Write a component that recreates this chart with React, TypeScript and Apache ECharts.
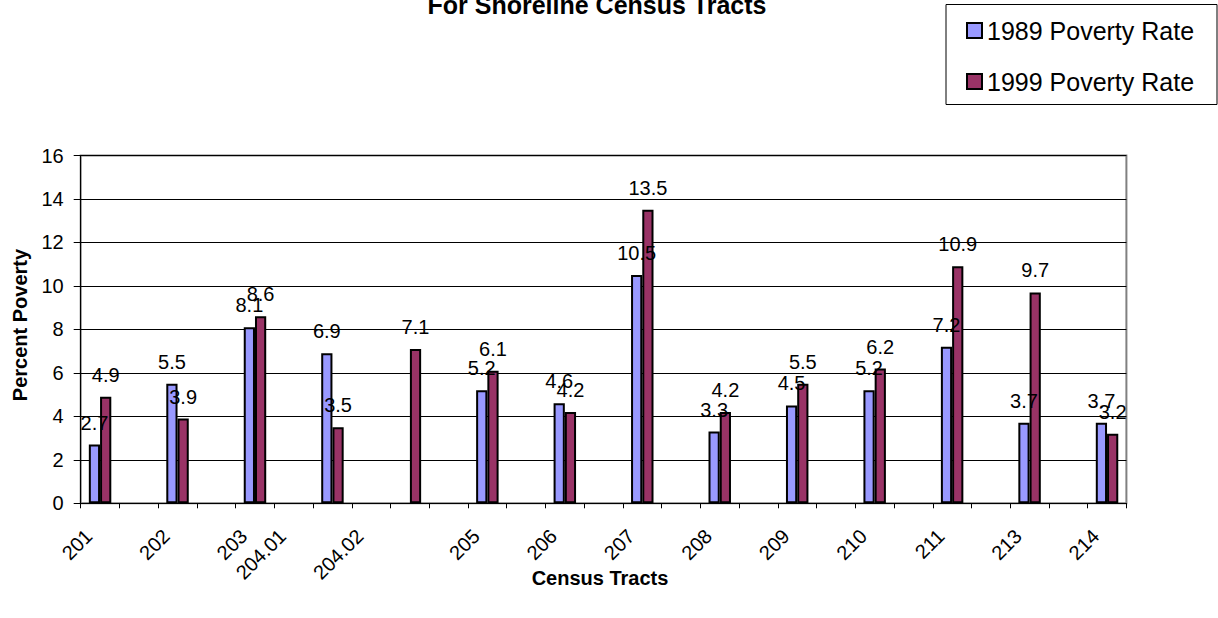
import React, { useEffect, useRef } from "react";
import * as echarts from "echarts";

const tracts = ["201", "202", "203", "204.01", "204.02", "205", "206", "207", "208", "209", "210", "211", "213", "214"];
const rate1989: (number | null)[] = [2.7, 5.5, 8.1, 6.9, null, 5.2, 4.6, 10.5, 3.3, 4.5, 5.2, 7.2, 3.7, 3.7];
const rate1999: (number | null)[] = [4.9, 3.9, 8.6, 3.5, 7.1, 6.1, 4.2, 13.5, 4.2, 5.5, 6.2, 10.9, 9.7, 3.2];
// tick labels as they sit under the axis slots in the original (the two long labels sit one slot to the left)
const xTickLabels = [
  "201", "", "202", "", "203", "204.01", "", "204.02", "", "", "205", "", "206", "", "207", "",
  "208", "", "209", "", "210", "", "211", "", "213", "", "214",
];
const yTicks = { min: 0, max: 16, interval: 2 };

const FONT = "'Liberation Sans', Arial, sans-serif";

function interleave<T>(arr: T[], gap: (i: number) => T): T[] {
  const out: T[] = [];
  arr.forEach((v, i) => {
    if (i > 0) out.push(gap(i));
    out.push(v);
  });
  return out;
}

export default function App() {
  const ref = useRef<HTMLDivElement>(null);
  useEffect(() => {
    if (!ref.current) return;
    const chart = echarts.init(ref.current, undefined, { renderer: "svg" });
    const cats = interleave(tracts, (i) => "_gap" + i);
    const d89 = interleave(rate1989.map((v) => (v == null ? "-" : v)), () => "-");
    const d99 = interleave(rate1999.map((v) => (v == null ? "-" : v)), () => "-");
    const labelCfg = {
      show: true,
      position: "top",
      distance: 12,
      color: "#000",
      fontSize: 20,
      fontFamily: FONT,
    };
    chart.setOption({
      animation: false,
      backgroundColor: "#fff",
      title: {
        text: "For Shoreline Census Tracts",
        left: 592,
        textAlign: "center",
        top: -13,
        textStyle: { fontSize: 25, fontWeight: "bold", color: "#000", fontFamily: FONT },
      },
      legend: {
        orient: "vertical",
        left: 961,
        top: 13,
        itemWidth: 15,
        itemHeight: 15,
        itemGap: 26,
        icon: "rect",
        textStyle: { fontSize: 25, lineHeight: 24, color: "#000", fontFamily: FONT },
        data: ["1989 Poverty Rate", "1999 Poverty Rate"],
      },
      grid: {
        left: 80.7,
        right: 91.6,
        top: 155.5,
        bottom: 114.7,
        show: true,
        borderColor: "#808080",
        borderWidth: 2,
        backgroundColor: "transparent",
        containLabel: false,
      },
      xAxis: {
        type: "category",
        data: cats,
        boundaryGap: true,
        axisLine: { lineStyle: { color: "#000", width: 1 } },
        axisTick: { show: true, interval: 0, length: 5, lineStyle: { color: "#000" } },
        axisLabel: {
          interval: 0,
          rotate: 45,
          margin: 18,
          padding: [0, 16, 0, 0],
          fontSize: 20,
          color: "#000",
          fontFamily: FONT,
          formatter: (_v: string, idx: number) => xTickLabels[idx] ?? "",
        },
        splitLine: { show: false },
      },
      yAxis: {
        type: "value",
        min: yTicks.min,
        max: yTicks.max,
        interval: yTicks.interval,
        axisLine: { show: true, lineStyle: { color: "#000", width: 1 } },
        axisTick: { show: true, length: 7, lineStyle: { color: "#000" } },
        axisLabel: { margin: 17, fontSize: 20, color: "#000", fontFamily: FONT },
        splitLine: { show: true, lineStyle: { color: "#000", width: 1 } },
      },
      graphic: [
        {
          type: "rect",
          shape: { x: 946, y: 4.5, width: 271, height: 100 },
          style: { fill: "none", stroke: "#000", lineWidth: 1 },
          z: -1,
        },
        {
          type: "text",
          x: 600,
          y: 578,
          style: {
            text: "Census Tracts",
            align: "center",
            verticalAlign: "middle",
            fontSize: 20,
            fontWeight: "bold",
            fontFamily: FONT,
            fill: "#000",
          },
        },
        {
          type: "text",
          x: 20,
          y: 325,
          rotation: Math.PI / 2,
          style: {
            text: "Percent Poverty",
            align: "center",
            verticalAlign: "middle",
            fontSize: 20,
            fontWeight: "bold",
            fontFamily: FONT,
            fill: "#000",
          },
        },
      ],
      series: [
        {
          name: "1989 Poverty Rate",
          type: "bar",
          data: d89,
          barGap: "0%",
          barCategoryGap: "42%",
          itemStyle: { color: "#9999FF", borderColor: "#000", borderWidth: 2 },
          label: labelCfg,
        },
        {
          name: "1999 Poverty Rate",
          type: "bar",
          data: d99,
          barGap: "0%",
          barCategoryGap: "42%",
          itemStyle: { color: "#993366", borderColor: "#000", borderWidth: 2 },
          label: labelCfg,
        },
      ],
    });
    return () => chart.dispose();
  }, []);
  return (
    <div
      ref={ref}
      style={{ position: "absolute", left: 0, top: 0, width: 1218, height: 618 }}
    />
  );
}
